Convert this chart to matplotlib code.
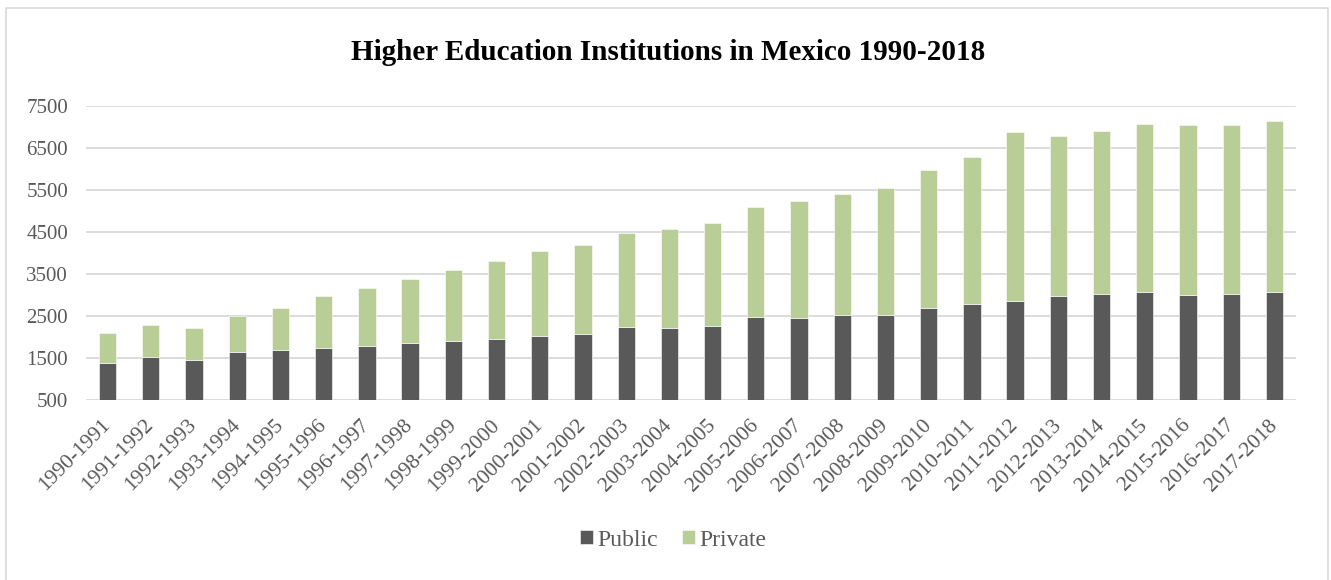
import matplotlib
matplotlib.use("Agg")
import matplotlib.pyplot as plt
from matplotlib.patches import Rectangle
import numpy as np

years = ["1990-1991", "1991-1992", "1992-1993", "1993-1994", "1994-1995", "1995-1996",
         "1996-1997", "1997-1998", "1998-1999", "1999-2000", "2000-2001", "2001-2002",
         "2002-2003", "2003-2004", "2004-2005", "2005-2006", "2006-2007", "2007-2008",
         "2008-2009", "2009-2010", "2010-2011", "2011-2012", "2012-2013", "2013-2014",
         "2014-2015", "2015-2016", "2016-2017", "2017-2018"]
public = [1395, 1522, 1458, 1641, 1696, 1744, 1791, 1854, 1910, 1950, 2037, 2084,
          2243, 2227, 2274, 2480, 2456, 2528, 2528, 2694, 2781, 2860, 2979, 3027,
          3082, 2995, 3027, 3082]
private = [697, 760, 769, 871, 998, 1235, 1378, 1537, 1687, 1861, 2004, 2107,
           2233, 2344, 2432, 2622, 2781, 2875, 3026, 3271, 3501, 4016, 3802, 3881,
           3985, 4048, 4008, 4056]
yticks = [500, 1500, 2500, 3500, 4500, 5500, 6500, 7500]

W, H = 1331, 580
fig = plt.figure(figsize=(W / 100, H / 100), dpi=100)
serif = "Liberation Serif"
grey = "#595959"

# chart border
fig.patches.append(Rectangle((5.5 / W, -0.05), (1328 - 5.5) / W, 1 - 8 / H + 0.05,
                             transform=fig.transFigure, fill=False,
                             edgecolor="#d9d9d9", linewidth=1.2))

ax = fig.add_axes([86 / W, 1 - 400.3 / H, (1296 - 86) / W, (400.3 - 105.7) / H])
x = np.arange(len(years))
ax.bar(x, public, width=0.4, color="#595959", label="Public", zorder=3,
       edgecolor="white", linewidth=0.4)
ax.bar(x, private, width=0.4, bottom=public, color="#B9CE96", label="Private",
       zorder=3, edgecolor="white", linewidth=0.4)

ax.set_xlim(-0.5, len(years) - 0.5)
ax.set_ylim(500, 7500)
ax.set_yticks(yticks)
ax.set_yticklabels([str(v) for v in yticks], fontfamily=serif, fontsize=15, color=grey)
ax.tick_params(axis="y", length=0, pad=13)
ax.set_xticks(x)
ax.set_xticklabels(years, rotation=45, ha="right", va="center", rotation_mode="anchor",
                   fontfamily=serif, fontsize=15.5, color=grey)
ax.tick_params(axis="x", length=0, pad=16)
ax.grid(axis="y", color="#d9d9d9", linewidth=1.3, zorder=0)
ax.set_axisbelow(True)
for s in ax.spines.values():
    s.set_visible(False)
ax.set_facecolor("none")

fig.text(668 / W, 1 - 52 / H, "Higher Education Institutions in Mexico 1990-2018",
         ha="center", va="center", fontfamily=serif, fontweight="bold", fontsize=21,
         color="black")

leg = fig.legend(loc="center", bbox_to_anchor=(673 / W, 1 - 540 / H), ncol=2,
                 frameon=False, prop={"family": serif, "size": 17},
                 handlelength=0.55, handleheight=0.55, handletextpad=0.2,
                 columnspacing=1.0, labelcolor=grey)

fig.savefig("out.png", dpi=100)
